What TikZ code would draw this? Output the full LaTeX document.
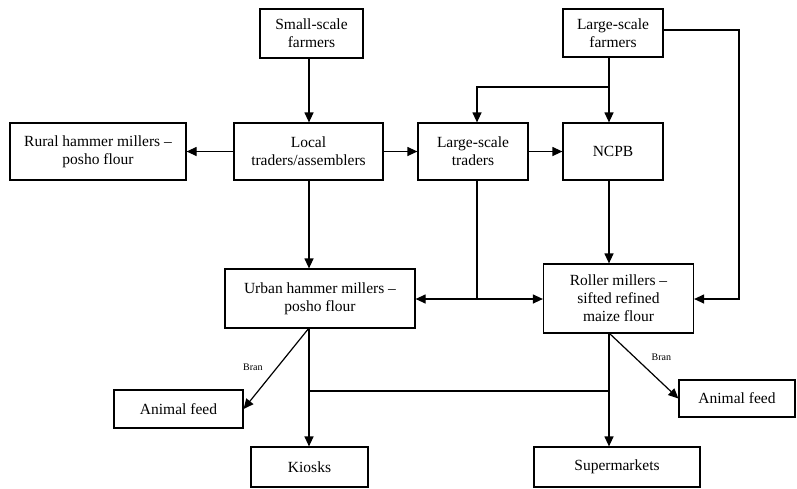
\documentclass[tikz,border=0pt]{standalone}
\usepackage{fontspec}
\setmainfont{Liberation Serif}
\usetikzlibrary{arrows.meta, positioning}

\begin{document}
\begin{tikzpicture}[x=1pt, y=-1pt, line width=1.2pt,
  >={Triangle[length=10pt, width=9pt]},
  box/.style={draw, align=center, inner sep=2pt, font=\fontsize{15.5}{18}\selectfont},
  lbl/.style={font=\fontsize{10}{12}\selectfont}]

  \useasboundingbox (0,0) rectangle (797,488);

  % Producers
  \node[box, minimum width=103pt, minimum height=49pt] (smallfarm) at (311.5,33.5) {Small-scale\\farmers};
  \node[box, minimum width=100pt, minimum height=48pt] (largefarm) at (613,33) {Large-scale\\farmers};

  % Traders
  \node[box, minimum width=176pt, minimum height=57pt] (rural) at (98,151.5) {Rural hammer millers --\\posho flour};
  \node[box, minimum width=149pt, minimum height=57pt] (local) at (308.5,151.5) {Local\\traders/assemblers};
  \node[box, minimum width=110pt, minimum height=57pt] (bigtrader) at (473,151.5) {Large-scale\\traders};
  \node[box, minimum width=100pt, minimum height=57pt] (ncpb) at (613,151.5) {NCPB};

  % Millers
  \node[box, minimum width=190pt, minimum height=59pt] (urban) at (320,298.5) {Urban hammer millers --\\posho flour};
  \node[box, minimum width=150pt, minimum height=69pt] (roller) at (618.5,298.5) {Roller millers --\\sifted refined\\maize flour};

  % Outlets
  \node[box, minimum width=129pt, minimum height=38pt] (feedleft) at (178.5,409) {Animal feed};
  \node[box, minimum width=116pt, minimum height=37pt] (feedright) at (737,398.5) {Animal feed};
  \node[box, minimum width=117pt, minimum height=40pt] (kiosks) at (309.5,467) {Kiosks};
  \node[box, minimum width=166pt, minimum height=40pt] (supermkt) at (617,467) {Supermarkets};

  % Junction points
  \coordinate (lfsplit) at (609,87);          % large farmers split
  \coordinate (ltjoin) at (477,299);          % large traders to millers
  \coordinate (uout) at (309,328);            % urban millers outlet
  \coordinate (rout) at (609,333);            % roller millers outlet
  \coordinate (retail) at (309,391);          % shared retail line

  % Flows
  \draw[->] (smallfarm.south -| uout) -- (local.north -| uout);
  \draw[->] (local.west) -- (rural.east);
  \draw[->] (local.east) -- (bigtrader.west);
  \draw[->] (bigtrader.east) -- (ncpb.west);
  \draw[->] (local.south -| uout) -- (urban.north -| uout);

  \draw (largefarm.south -| lfsplit) -- (lfsplit);
  \draw[->] (lfsplit) -- (ncpb.north -| lfsplit);
  \draw[->] (lfsplit) -| (bigtrader.north -| ltjoin);
  \draw[->] (largefarm.east |- 0,30) -- (739,30) |- (roller.east |- ltjoin);

  \draw[->] (ncpb.south -| rout) -- (roller.north -| rout);
  \draw (bigtrader.south -| ltjoin) -- (ltjoin);
  \draw[->] (ltjoin) -- (urban.east |- ltjoin);
  \draw[->] (ltjoin) -- (roller.west |- ltjoin);

  % Bran and retail
  \draw[->] (uout) -- node[lbl, pos=0.48, left=11pt] {Bran} (feedleft.east);
  \draw[->] (rout) -- node[lbl, pos=0.37, right=13pt] {Bran} (feedright.west);
  \draw[->] (uout) -- (kiosks.north -| uout);
  \draw[->] (rout) -- (supermkt.north -| rout);
  \draw (retail) -- (retail -| rout);

\end{tikzpicture}
\end{document}
